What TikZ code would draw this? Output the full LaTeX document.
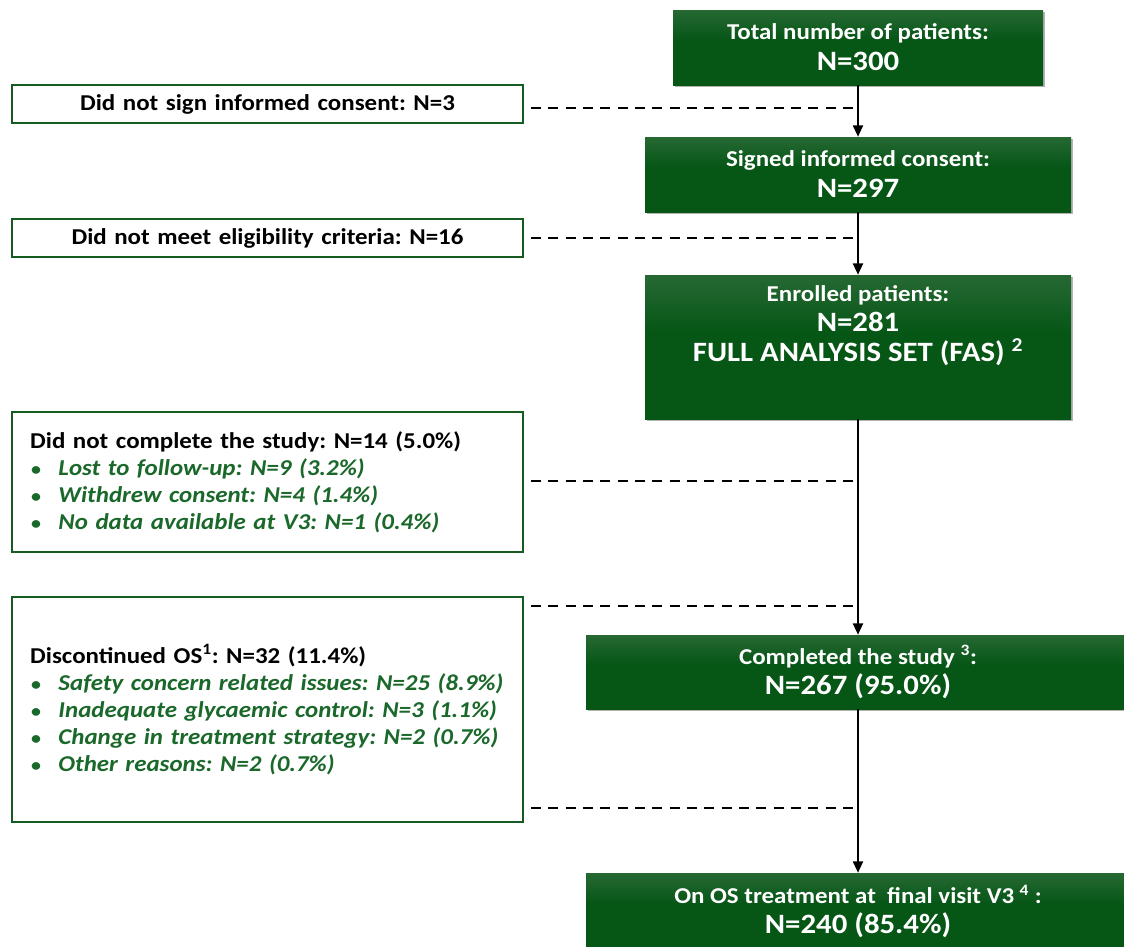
\documentclass[tikz,border=0pt]{standalone}
\usepackage{fontspec}
\setmainfont{Carlito}[FakeStretch=1.1]
\usetikzlibrary{arrows.meta,calc,shadows}
\frenchspacing
\definecolor{gDark}{RGB}{6,86,22}
\definecolor{gTop}{RGB}{78,128,88}
\definecolor{gLine}{RGB}{22,92,34}
\definecolor{gText}{RGB}{26,104,42}
\pgfdeclareverticalshading{greenbox}{100bp}{color(0bp)=(gDark); color(55bp)=(gDark); color(100bp)=(gTop)}
\newcommand\fsSmall{\fontsize{17}{20.25}\selectfont}
\newcommand\fsBig{\fontsize{21}{22.5}\selectfont}
\newcommand\bul[1]{\hspace*{2.25pt}\makebox[20.5pt][l]{\color{gText}\scalebox{0.8}{\textbullet}}{\color{gText}\itshape #1}}
\tikzset{
  mainbox/.style={draw=none, shading=greenbox, text=white, font=\bfseries\fsBig, align=center,
    inner sep=0pt, drop shadow={shadow xshift=1.5pt, shadow yshift=-1.5pt, opacity=0.3, fill=black}},
  sidebox/.style={draw=gLine, line width=1.5pt, fill=white, minimum height=28.5pt, text width=359pt,
    inner xsep=12pt, inner ysep=0pt, font=\bfseries\fsSmall},
  flow/.style={line width=1.5pt, -{Triangle[length=8.5pt,width=7.5pt]}},
  skip/.style={line width=2.1pt, dash pattern=on 7.5pt off 5.5pt},
}
\begin{document}
\begin{tikzpicture}[x=0.75pt,y=-0.75pt]
\useasboundingbox (0,0) rectangle (1124,946);
\clip (0,0) rectangle (1124,946);
% main column
\node[mainbox, minimum width=277.5pt, minimum height=56.25pt] (total) at (858,47.5)
  {{\fsSmall Total number of patients:}\\[0.75pt]N=300};
\node[mainbox, minimum width=319.5pt, minimum height=56.25pt] (signed) at (858,174.5)
  {{\fsSmall Signed informed consent:}\\[0.75pt]N=297};
\node[mainbox, minimum width=319.5pt, minimum height=108pt] (enrolled) at (858,347) {};
\node[text=white, font=\bfseries\fsBig, align=center, anchor=north, inner sep=0pt] (enrolledtxt) at (858,285)
  {{\fsSmall Enrolled patients:}\\N=281\\FULL ANALYSIS SET (FAS) \textsuperscript{2}};
\node[mainbox, minimum width=408pt, minimum height=55.5pt] (completed) at (858,672)
  {{\fsSmall Completed the study \textsuperscript{3}:}\\N=267 (95.0\%)};
\node[mainbox, minimum width=408pt, minimum height=57.75pt] (ontreat) at (858,911.5)
  {{\fsSmall On OS treatment at\ \ final visit V3 \textsuperscript{4} :}\\N=240 (85.4\%)};
% side boxes
\node[sidebox, align=center] (nosign) at (267.5,104) {Did not sign informed consent: N=3};
\node[sidebox, align=center] (noelig) at (267.5,238) {Did not meet eligibility criteria: N=16};
\node[sidebox, align=left, minimum height=105pt] (notcomplete) at (267.5,482)
  {\hspace*{1.5pt}Did not complete the study: N=14 (5.0\%)\\
   \bul{Lost to follow-up: N=9 (3.2\%)}\\
   \bul{Withdrew consent: N=4 (1.4\%)}\\
   \bul{No data available at V3: N=1 (0.4\%)}};
\node[sidebox, align=left, minimum height=168.75pt] (discont) at (267.5,709.5)
  {\hspace*{1.5pt}Discontinued OS\textsuperscript{1}: N=32 (11.4\%)\\
   \bul{Safety concern related issues: N=25 (8.9\%)}\\
   \bul{Inadequate glycaemic control: N=3 (1.1\%)}\\
   \bul{Change in treatment strategy: N=2 (0.7\%)}\\
   \bul{Other reasons: N=2 (0.7\%)}};
% flow arrows
\draw[flow] (total.south) -- (signed.north);
\draw[flow] (signed.south) -- (enrolled.north);
\draw[flow] (enrolled.south) -- (completed.north);
\draw[flow] (completed.south) -- (ontreat.north);
% dashed exclusions
\coordinate (d1) at ($(nosign.east)+(7,4)$);
\coordinate (d2) at ($(noelig.east)+(7,0)$);
\coordinate (d3) at ($(notcomplete.east)+(7,-1)$);
\coordinate (d4) at ($(discont.north east)+(7,10)$);
\coordinate (d5) at ($(discont.south east)+(7,-15)$);
\draw[skip] (d1) -- (d1 -| total.south);
\draw[skip] (d2) -- (d2 -| total.south);
\draw[skip] (d3) -- (d3 -| total.south);
\draw[skip] (d4) -- (d4 -| total.south);
\draw[skip] (d5) -- (d5 -| total.south);
\end{tikzpicture}
\end{document}
